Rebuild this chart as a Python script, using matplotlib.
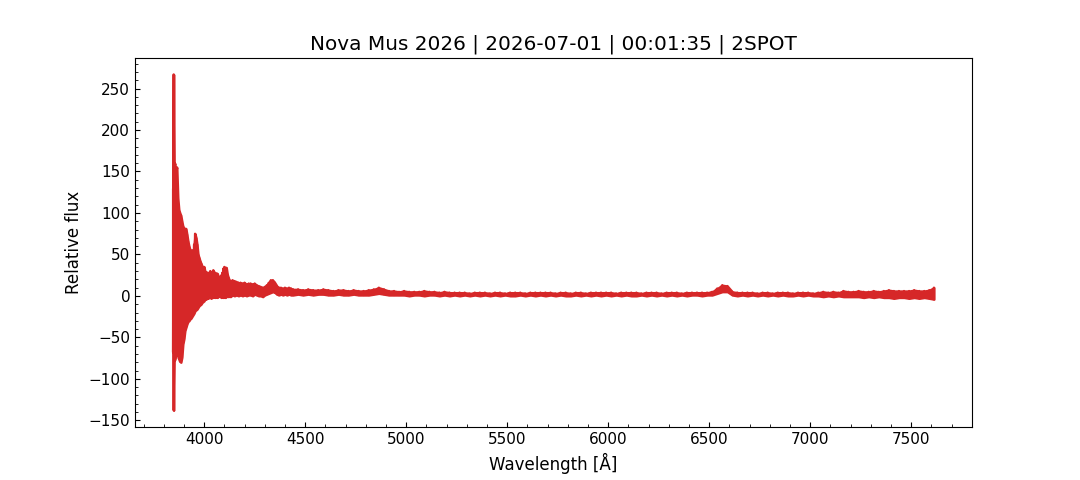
import numpy as np
import matplotlib
matplotlib.use("Agg")
import matplotlib.pyplot as plt

plt.rcParams['font.size'] = 12

title = "Nova Mus 2026 | 2026-07-01 | 00:01:35 | 2SPOT"

# spectrum: at each wavelength the upper and lower
# extent of the noisy trace (relative flux)

# blue end, very noisy
wl_a = [3846, 3849, 3852, 3855, 3860, 3865, 3870, 3875, 3880, 3885,
        3890, 3895, 3900, 3905, 3910, 3915, 3920, 3925, 3930, 3935,
        3940, 3945, 3950, 3955, 3960, 3965, 3970, 3975, 3980, 3985,
        3990, 3995, 4000, 4005, 4010, 4015, 4020, 4025, 4030, 4035,
        4040, 4045, 4050, 4055, 4060, 4065, 4070, 4075, 4080, 4085,
        4090, 4095, 4100, 4105, 4110, 4115, 4120, 4125, 4130]
hi_a = [128, 267, 158, 160, 152, 155, 118, 104, 100, 97,
        90, 84, 82, 80, 81, 74, 66, 60, 56, 54,
        55, 52, 62, 75, 70, 62, 50, 46, 42, 39,
        36, 33, 35, 28, 29, 26, 28, 25, 30, 27,
        29, 31, 27, 28, 26, 27, 24, 20, 22, 25,
        28, 33, 35, 30, 34, 26, 22, 19, 18]
lo_a = [-68, -138, -76, -77, -72, -70, -72, -76, -79, -80,
        -74, -58, -52, -42, -38, -34, -31, -30, -28, -27,
        -25, -23, -21, -18, -17, -16, -14, -12, -11, -10,
        -8, -7, -6, -3, -4, -2, -3, -1, -2, -3,
        -1, -2, -1, -2, -1, -2, -1, 0, -1, -2,
        -1, -2, -1, -2, -1, 0, -1, 0, -1]

# 4140 - 4440
wl_b = [4140, 4150, 4160, 4170, 4180, 4190, 4200, 4210, 4220, 4230,
        4240, 4250, 4260, 4270, 4280, 4290, 4300, 4310, 4320, 4330,
        4340, 4350, 4360, 4370, 4380, 4390, 4400, 4410, 4420, 4430,
        4440]
hi_b = [19, 18, 17, 16, 16, 15, 16, 14, 15, 15,
        14, 15, 13, 12, 11, 10, 11, 13, 16, 19,
        19, 16, 12, 10, 10, 9, 10, 9, 10, 9,
        8]
lo_b = [1, 0, 1, 0, 1, 0, 1, 0, 1, 1,
        0, 2, 1, 0, 0, -1, 1, 2, 3, 4,
        5, 4, 2, 1, 2, 1, 2, 1, 2, 1,
        1]

# red part, mostly flat
wl_c = [4465, 4490, 4515, 4540, 4565, 4590, 4615, 4640, 4665, 4690,
        4715, 4740, 4765, 4790, 4815, 4840, 4865, 4890, 4915, 4940,
        4965, 4990, 5015, 5040, 5065, 5090, 5115, 5140, 5165, 5190,
        5215, 5240, 5265, 5290, 5315, 5340, 5365, 5390, 5415, 5440,
        5465, 5490, 5515, 5540, 5565, 5590, 5615, 5640, 5665, 5690,
        5715, 5740, 5765, 5790, 5815, 5840, 5865, 5890, 5915, 5940,
        5965, 5990, 6015, 6040, 6065, 6090, 6115, 6140, 6165, 6190,
        6215, 6240, 6265, 6290, 6315, 6340, 6365, 6390, 6415, 6440,
        6465, 6490, 6515, 6540, 6565, 6590, 6615, 6640, 6665, 6690,
        6715, 6740, 6765, 6790, 6815, 6840, 6865, 6890, 6915, 6940,
        6965, 6990, 7015, 7040, 7065, 7090, 7115, 7140, 7165, 7190,
        7215, 7240, 7265, 7290, 7315, 7340, 7365, 7390, 7415, 7440,
        7465, 7490, 7515, 7540, 7565, 7590, 7613]
hi_c = [8, 7, 8, 7, 7, 8, 7, 6, 7, 7,
        6, 7, 6, 6, 7, 8, 10, 8, 6, 6,
        5, 6, 5, 5, 5, 6, 5, 5, 4, 5,
        4, 4, 4, 4, 3, 4, 4, 4, 3, 4,
        4, 3, 4, 4, 4, 3, 4, 4, 4, 4,
        4, 3, 4, 4, 3, 4, 4, 3, 4, 4,
        4, 4, 4, 3, 4, 4, 4, 4, 3, 4,
        4, 4, 3, 4, 4, 4, 3, 4, 4, 4,
        4, 4, 5, 9, 13, 12, 5, 4, 4, 4,
        4, 3, 4, 4, 3, 4, 4, 4, 3, 4,
        4, 4, 3, 4, 5, 4, 5, 4, 6, 5,
        5, 6, 5, 5, 6, 5, 6, 7, 6, 6,
        6, 6, 7, 6, 6, 7, 10]
lo_c = [2, 1, 2, 1, 2, 2, 1, 1, 2, 1,
        1, 2, 1, 1, 1, 2, 3, 2, 1, 1,
        1, 1, 0, 1, 1, 0, 1, 1, 0, 1,
        0, 1, 0, 1, 0, 1, 0, 1, 0, 1,
        0, 1, 0, 0, 1, 0, 1, 0, 1, 0,
        1, 0, 1, 0, 0, 1, 0, 1, 0, 1,
        0, 1, 0, 1, 0, 1, 0, 0, 1, 0,
        1, 0, 1, 0, 1, 0, 1, 0, 1, 1,
        0, 1, 1, 3, 5, 5, 1, 0, 1, 0,
        1, 0, 1, 0, 1, 0, 1, 0, 0, 1,
        0, 1, 0, 0, -1, 0, -1, 0, -1, -1,
        -1, -1, -2, -1, -2, -1, -2, -2, -3, -2,
        -2, -3, -2, -3, -2, -3, -4]

wl = np.array(wl_a + wl_b + wl_c, dtype=float)
hi = np.array(hi_a + hi_b + hi_c, dtype=float)
lo = np.array(lo_a + lo_b + lo_c, dtype=float)

# trace goes up and down at every sample, like the unresolved noise
x = np.repeat(wl, 2)
y = np.column_stack([hi, lo]).ravel()

fig, ax = plt.subplots(figsize=(10.8, 4.8), dpi=100)
ax.fill_between(wl, lo, hi, color='tab:red', lw=1.6)
ax.plot(x, y, color='tab:red', lw=1.6)

ax.set_title(title)
ax.set_xlabel('Wavelength [Å]')
ax.set_ylabel('Relative flux')
ax.minorticks_on()
ax.tick_params(which='both', direction='in', labelsize=11)

fig.savefig('out.png', dpi=100)
